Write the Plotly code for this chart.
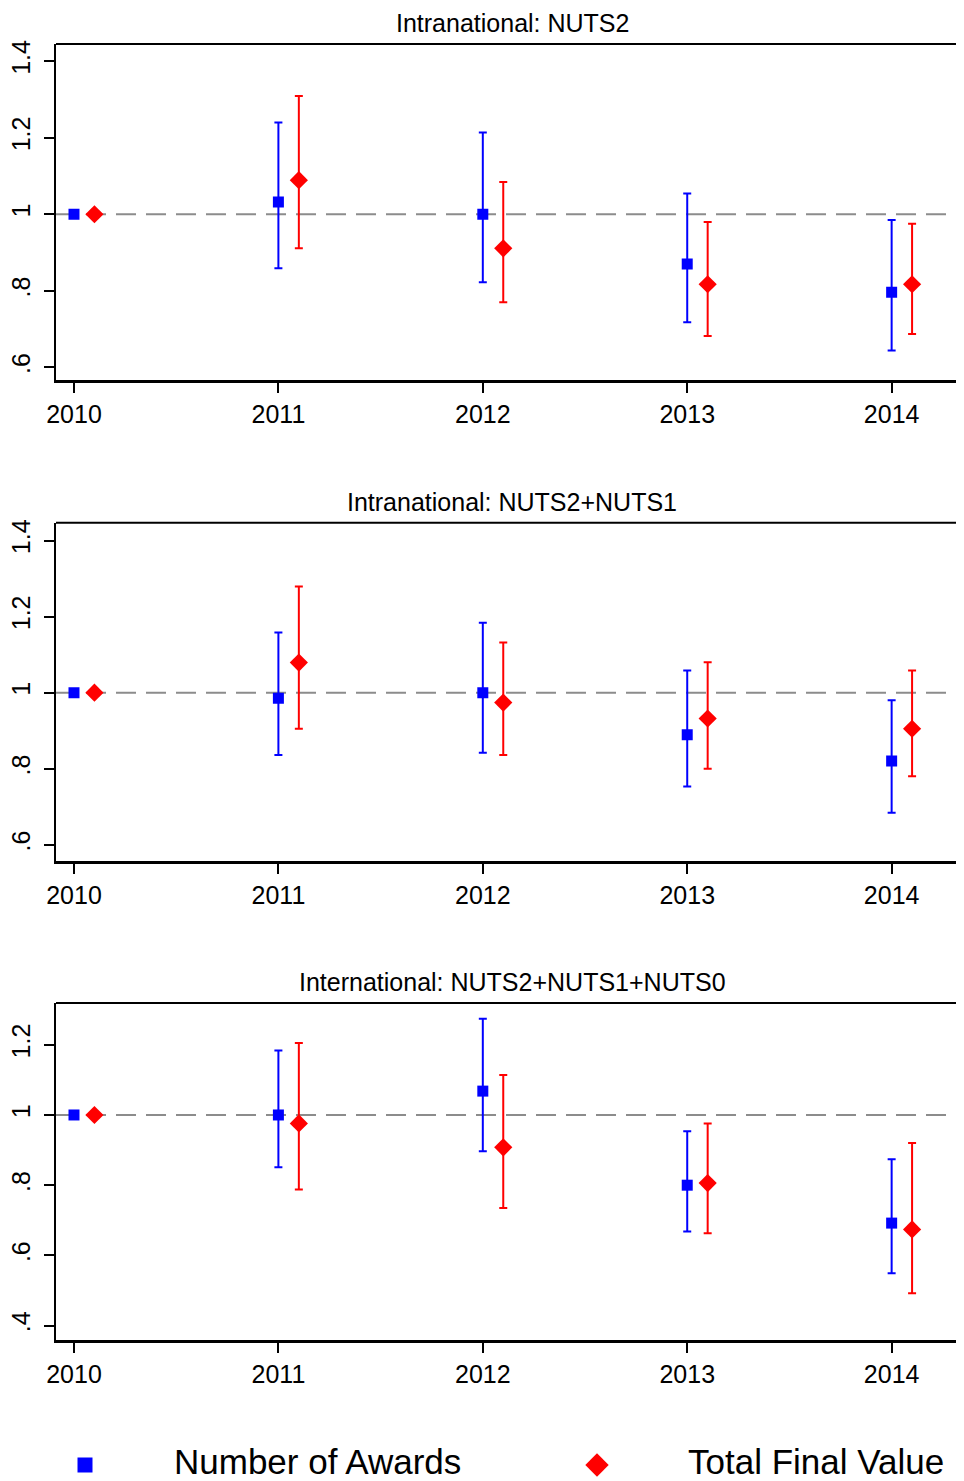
import plotly.graph_objects as go

# ---------------- data ----------------
years = [2010, 2011, 2012, 2013, 2014]
panel_titles = ["Intranational: NUTS2",
                "Intranational: NUTS2+NUTS1",
                "International: NUTS2+NUTS1+NUTS0"]
series_names = ["Number of Awards", "Total Final Value"]

# Panel 1: Intranational NUTS2
p1_awards = [1.0, 1.032, 1.000, 0.870, 0.796]
p1_awards_lo = [None, 0.859, 0.822, 0.718, 0.644]
p1_awards_hi = [None, 1.240, 1.214, 1.054, 0.985]
p1_value = [1.0, 1.089, 0.911, 0.817, 0.817]
p1_value_lo = [None, 0.911, 0.770, 0.682, 0.687]
p1_value_hi = [None, 1.309, 1.084, 0.980, 0.975]

# Panel 2: Intranational NUTS2+NUTS1
p2_awards = [1.0, 0.985, 1.000, 0.889, 0.820]
p2_awards_lo = [None, 0.836, 0.842, 0.753, 0.684]
p2_awards_hi = [None, 1.158, 1.184, 1.058, 0.980]
p2_value = [1.0, 1.079, 0.974, 0.932, 0.905]
p2_value_lo = [None, 0.905, 0.836, 0.800, 0.780]
p2_value_hi = [None, 1.279, 1.132, 1.080, 1.058]

# Panel 3: International NUTS2+NUTS1+NUTS0
p3_awards = [1.0, 1.000, 1.068, 0.800, 0.692]
p3_awards_lo = [None, 0.851, 0.897, 0.668, 0.549]
p3_awards_hi = [None, 1.184, 1.274, 0.954, 0.874]
p3_value = [1.0, 0.976, 0.908, 0.806, 0.674]
p3_value_lo = [None, 0.788, 0.735, 0.663, 0.492]
p3_value_hi = [None, 1.205, 1.114, 0.976, 0.920]

ytick_vals_12 = [0.6, 0.8, 1.0, 1.2, 1.4]
ytick_text_12 = [".6", ".8", "1", "1.2", "1.4"]
ytick_vals_3 = [0.4, 0.6, 0.8, 1.0, 1.2]
ytick_text_3 = [".4", ".6", ".8", "1", "1.2"]
xtick_text = [str(y) for y in years]

# ---------------- styling / layout ----------------
PAGE_OFF = 8                      # default body margin of the html page
W, H = 964 - PAGE_OFF, 1481 - PAGE_OFF
FONT = "Liberation Sans, Arial, sans-serif"
BLUE = "#0000FF"
RED = "#FF0000"
OFFSET = 0.1


def px_x(px):
    return (px - PAGE_OFF) / W


def px_y(py):
    return 1 - (py - PAGE_OFF) / H


panels = [
    dict(aw=p1_awards, aw_lo=p1_awards_lo, aw_hi=p1_awards_hi,
         va=p1_value, va_lo=p1_value_lo, va_hi=p1_value_hi,
         top=44, bottom=380.3, yr=[0.566, 1.445],
         tv=ytick_vals_12, tt=ytick_text_12),
    dict(aw=p2_awards, aw_lo=p2_awards_lo, aw_hi=p2_awards_hi,
         va=p2_value, va_lo=p2_value_lo, va_hi=p2_value_hi,
         top=522.7, bottom=860.7, yr=[0.558, 1.447],
         tv=ytick_vals_12, tt=ytick_text_12),
    dict(aw=p3_awards, aw_lo=p3_awards_lo, aw_hi=p3_awards_hi,
         va=p3_value, va_lo=p3_value_lo, va_hi=p3_value_hi,
         top=1003, bottom=1340, yr=[0.359, 1.319],
         tv=ytick_vals_3, tt=ytick_text_3),
]

x_left_px = 56
x_range = [2009.912, 2014.354]


def err(vals, lo, hi):
    plus = [None if h is None else h - v for v, h in zip(vals, hi)]
    minus = [None if l is None else v - l for v, l in zip(vals, lo)]
    return plus, minus


fig = go.Figure()
annotations = []
shapes = []
layout_axes = {}

for i, p in enumerate(panels):
    n = i + 1
    xa = "x" if n == 1 else f"x{n}"
    ya = "y" if n == 1 else f"y{n}"
    xkey = "xaxis" if n == 1 else f"xaxis{n}"
    ykey = "yaxis" if n == 1 else f"yaxis{n}"

    # reference dashed line at 1
    shapes.append(dict(type="line", xref=f"{xa} domain", yref=ya,
                       x0=0, x1=1, y0=1, y1=1,
                       line=dict(color="#8C8C8C", width=2, dash="20px,10px"),
                       layer="below"))
    # top border of the plot box
    shapes.append(dict(type="line", xref=f"{xa} domain", yref=f"{ya} domain",
                       x0=0, x1=1, y0=1, y1=1,
                       line=dict(color="black", width=2)))

    ap, am = err(p["aw"], p["aw_lo"], p["aw_hi"])
    vp, vm = err(p["va"], p["va_lo"], p["va_hi"])

    fig.add_trace(go.Scatter(
        x=years, y=p["aw"], mode="markers", name=series_names[0],
        xaxis=xa, yaxis=ya, showlegend=False,
        marker=dict(symbol="square", size=11, color=BLUE),
        error_y=dict(type="data", symmetric=False, array=ap, arrayminus=am,
                     color=BLUE, thickness=2, width=4)))
    fig.add_trace(go.Scatter(
        x=[y + OFFSET for y in years], y=p["va"], mode="markers",
        name=series_names[1], xaxis=xa, yaxis=ya, showlegend=False,
        marker=dict(symbol="diamond", size=14, color=RED),
        error_y=dict(type="data", symmetric=False, array=vp, arrayminus=vm,
                     color=RED, thickness=2, width=4)))

    dom_y = [px_y(p["bottom"]), px_y(p["top"])]
    layout_axes[xkey] = dict(
        domain=[px_x(x_left_px), 1], range=x_range, anchor=ya,
        tickvals=years, ticktext=xtick_text, ticks="outside", ticklen=10,
        tickwidth=2, tickcolor="black", showline=True, linewidth=3,
        linecolor="black", showgrid=False, zeroline=False,
        tickfont=dict(family=FONT, size=25, color="black"),
        ticklabelstandoff=0, fixedrange=True, automargin=False)
    layout_axes[ykey] = dict(
        domain=dom_y, range=p["yr"], anchor=xa,
        tickvals=p["tv"], ticktext=p["tt"], ticks="outside", ticklen=10,
        tickwidth=2, tickcolor="black", showline=True, linewidth=2,
        linecolor="black", showgrid=False, zeroline=False, tickangle=-90,
        tickfont=dict(family=FONT, size=25, color="black"),
        ticklabelstandoff=4, fixedrange=True, automargin=False)

    annotations.append(dict(
        text=panel_titles[i], xref="paper", yref="paper",
        x=px_x(512), y=px_y(p["top"] - 21), xanchor="center",
        yanchor="middle", showarrow=False,
        font=dict(family=FONT, size=25, color="black")))

# ---------------- legend (drawn manually on a hidden axis) ----------------
leg_y_px = 1465
leg_half = 1481 - leg_y_px
layout_axes["xaxis4"] = dict(domain=[0, 1], range=[PAGE_OFF, W + PAGE_OFF],
                             visible=False, anchor="y4", fixedrange=True,
                             automargin=False)
layout_axes["yaxis4"] = dict(domain=[0, 2 * leg_half / H],
                             range=[-1, 1], visible=False, anchor="x4",
                             fixedrange=True, automargin=False)
legend_key_x = [85, 597]
legend_text_x = [172, 686]
fig.add_trace(go.Scatter(x=[legend_key_x[0]], y=[0], mode="markers",
                         xaxis="x4", yaxis="y4", showlegend=False,
                         marker=dict(symbol="square", size=15, color=BLUE),
                         hoverinfo="skip", cliponaxis=False))
fig.add_trace(go.Scatter(x=[legend_key_x[1]], y=[0], mode="markers",
                         xaxis="x4", yaxis="y4", showlegend=False,
                         marker=dict(symbol="diamond", size=18, color=RED),
                         hoverinfo="skip", cliponaxis=False))
for tx, name in zip(legend_text_x, series_names):
    annotations.append(dict(text=name, xref="paper", yref="paper",
                            x=px_x(tx), y=px_y(1461), xanchor="left",
                            yanchor="middle", showarrow=False,
                            font=dict(family=FONT, size=35, color="black")))

fig.update_layout(
    width=W, height=H,
    margin=dict(l=0, r=0, t=0, b=0, autoexpand=False),
    paper_bgcolor="white", plot_bgcolor="white",
    showlegend=False,
    annotations=annotations, shapes=shapes,
    **layout_axes)

fig.write_html("out.html")
